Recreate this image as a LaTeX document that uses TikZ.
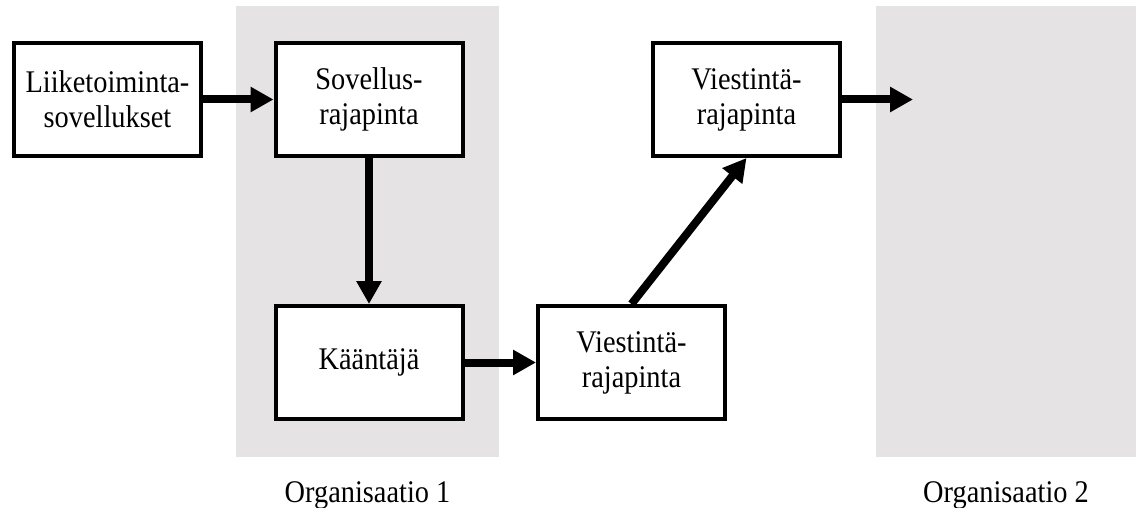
\documentclass[tikz,border=0pt]{standalone}
\usepackage{fontspec}
\setmainfont{Liberation Serif}
% slightly condensed serif for the labels
\newfontfamily\labelfont[FakeStretch=0.9]{Liberation Serif}
\usetikzlibrary{arrows.meta}
\definecolor{orgfill}{RGB}{229,227,228}
\begin{document}
\begin{tikzpicture}[x=1pt,y=-1pt,
  box/.style={draw=black,line width=4pt,fill=white,minimum width=187pt,
    minimum height=113pt,align=center,inner sep=0pt,
    font=\labelfont\fontsize{31.5}{35}\selectfont},
  flow/.style={line width=8pt,-{Triangle[length=23pt,width=24pt]}},
  orglabel/.style={font=\labelfont\fontsize{31.5}{35}\selectfont,anchor=base}]
\useasboundingbox (0,0) rectangle (1136,508);
% organisation areas
\fill[orgfill] (236,6) rectangle (499,457);
\fill[orgfill] (876,6) rectangle (1136,457);
\node[orglabel] (org1) at (367.5,502) {Organisaatio 1};
\node[orglabel] (org2) at (1006,502) {Organisaatio 2};
% components
\node[box] (liike) at (107.5,99.5) {Liiketoiminta-\\sovellukset};
\node[box] (sov) at (369,99.5) {Sovellus-\\rajapinta};
\node[box] (kaan) at (369,362.5) {Kääntäjä};
\node[box] (viest1) at (631.5,362.5) {Viestintä-\\rajapinta};
\node[box] (viest2) at (746.5,99.5) {Viestintä-\\rajapinta};
\coordinate (out) at (913,99.5);
% message flow
\draw[flow] (liike.east) -- (sov.west);
\draw[flow] (sov.south) -- (kaan.north);
\draw[flow] (kaan.east) -- (viest1.west);
\draw[flow] (viest1.north) -- (viest2.south);
\draw[flow] (viest2.east) -- (out);
\end{tikzpicture}
\end{document}
